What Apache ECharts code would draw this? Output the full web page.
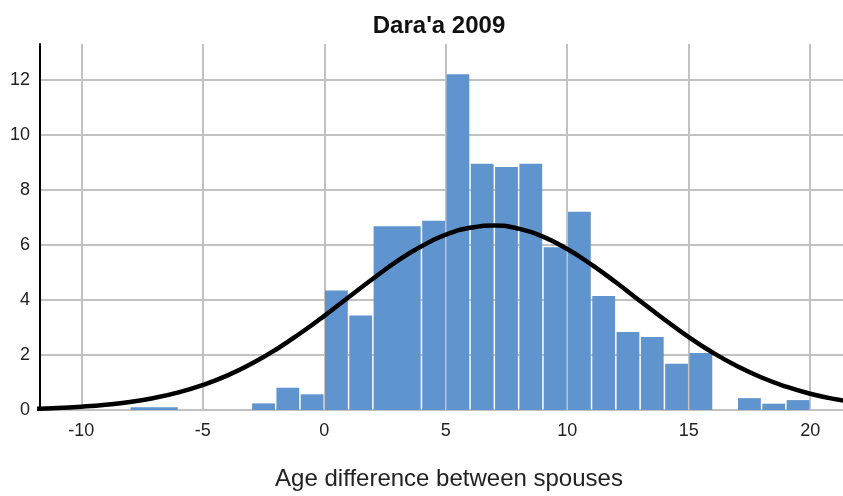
<!DOCTYPE html>
<html>
<head>
<meta charset="utf-8">
<script src="https://cdn.jsdelivr.net/npm/echarts@6/dist/echarts.min.js"></script>
<style>
  html, body { margin: 0; padding: 0; background: #ffffff; }
  #chart { width: 843px; height: 496px; }
</style>
</head>
<body>
<div id="chart"></div>
<script>
// Histogram bins (age difference, years) and heights (percent)
const binStart = [-8, -3, -2, -1, 0, 1, 2, 4, 5, 6, 7, 8, 9, 10, 11, 12, 13, 14, 15, 17, 18, 19];
const binEnd   = [-6, -2, -1, 0, 1, 2, 4, 5, 6, 7, 8, 9, 10, 11, 12, 13, 14, 15, 16, 18, 19, 20];
const binValue = [0.1, 0.24, 0.81, 0.57, 4.34, 3.43, 6.68, 6.88, 12.2, 8.95, 8.83, 8.95, 5.91, 7.2, 4.14, 2.83, 2.65, 1.68, 2.07, 0.43, 0.23, 0.36];

// Normal curve points
const curveX = [-12, -11, -10, -9, -8, -7, -6, -5, -4, -3, -2, -1, 0, 1, 2, 3, 4, 5, 6, 7, 8, 9, 10, 11, 12, 13, 14, 15, 16, 17, 18, 19, 20, 21, 22];
const curveY = [0.04, 0.07, 0.12, 0.19, 0.29, 0.44, 0.64, 0.91, 1.25, 1.68, 2.19, 2.78, 3.42, 4.10, 4.77, 5.41, 5.95, 6.37, 6.62, 6.70, 6.59, 6.30, 5.85, 5.28, 4.64, 3.96, 3.29, 2.65, 2.08, 1.59, 1.18, 0.85, 0.59, 0.40, 0.27];

const xTicks = [-10, -5, 0, 5, 10, 15, 20];
const yTicks = [0, 2, 4, 6, 8, 10, 12];

const FONT = "'Liberation Sans', Arial, sans-serif";
const barColor = '#6094ce';

const barData = binStart.map((s, i) => [s, binEnd[i], binValue[i]]);
const lineData = curveX.map((x, i) => [x, curveY[i]]);

const chart = echarts.init(document.getElementById('chart'), null, { renderer: 'canvas' });
chart.setOption({
  animation: false,
  backgroundColor: '#ffffff',
  title: {
    text: "Dara'a 2009",
    left: 434,
    textAlign: 'center',
    top: 9,
    textStyle: { fontFamily: FONT, fontSize: 24, fontWeight: 'bold', color: '#111' }
  },
  grid: { left: 40, right: 0, top: 44, bottom: 86, containLabel: false },
  xAxis: {
    type: 'value',
    min: -11.7,
    max: 21.35,
    splitNumber: 6,
    name: 'Age difference between spouses',
    nameLocation: 'middle',
    nameGap: 57,
    nameTextStyle: { fontFamily: FONT, fontSize: 24, color: '#222', padding: [0, 0, 0, 15] },
    axisLine: { show: false },
    axisTick: { show: false },
    axisLabel: {
      showMinLabel: false, showMaxLabel: false,
      margin: 12,
      fontFamily: FONT, fontSize: 18, color: '#222',
      formatter: v => (xTicks.indexOf(v) >= 0 ? String(v) : '')
    },
    splitLine: { show: true, showMinLine: false, showMaxLine: false, lineStyle: { color: '#c2c2c2', width: 2 } }
  },
  yAxis: {
    type: 'value',
    min: 0,
    max: 13.3,
    interval: 2,
    axisLine: { show: true, onZero: false, lineStyle: { color: '#000', width: 2 } },
    axisTick: { show: false },
    axisLabel: {
      showMaxLabel: false,
      margin: 10,
      fontFamily: FONT, fontSize: 18, color: '#222',
      formatter: v => (yTicks.indexOf(v) >= 0 ? String(v) : '')
    },
    splitLine: { show: true, showMaxLine: false, lineStyle: { color: '#c2c2c2', width: 2 } }
  },
  series: [
    {
      type: 'custom',
      data: barData,
      encode: { x: [0, 1], y: 2 },
      z: 2,
      renderItem: function (params, api) {
        const x0 = api.value(0), x1 = api.value(1), v = api.value(2);
        const pTop = api.coord([x0, v]);
        const pBot = api.coord([x1, 0]);
        return {
          type: 'rect',
          shape: { x: pTop[0] + 0.75, y: pTop[1], width: pBot[0] - pTop[0] - 1.5, height: pBot[1] - pTop[1] },
          style: { fill: barColor }
        };
      }
    },
    {
      type: 'line',
      data: lineData,
      smooth: true,
      showSymbol: false,
      clip: true,
      z: 3,
      lineStyle: { color: '#000', width: 4.5 }
    }
  ]
});
</script>
</body>
</html>
